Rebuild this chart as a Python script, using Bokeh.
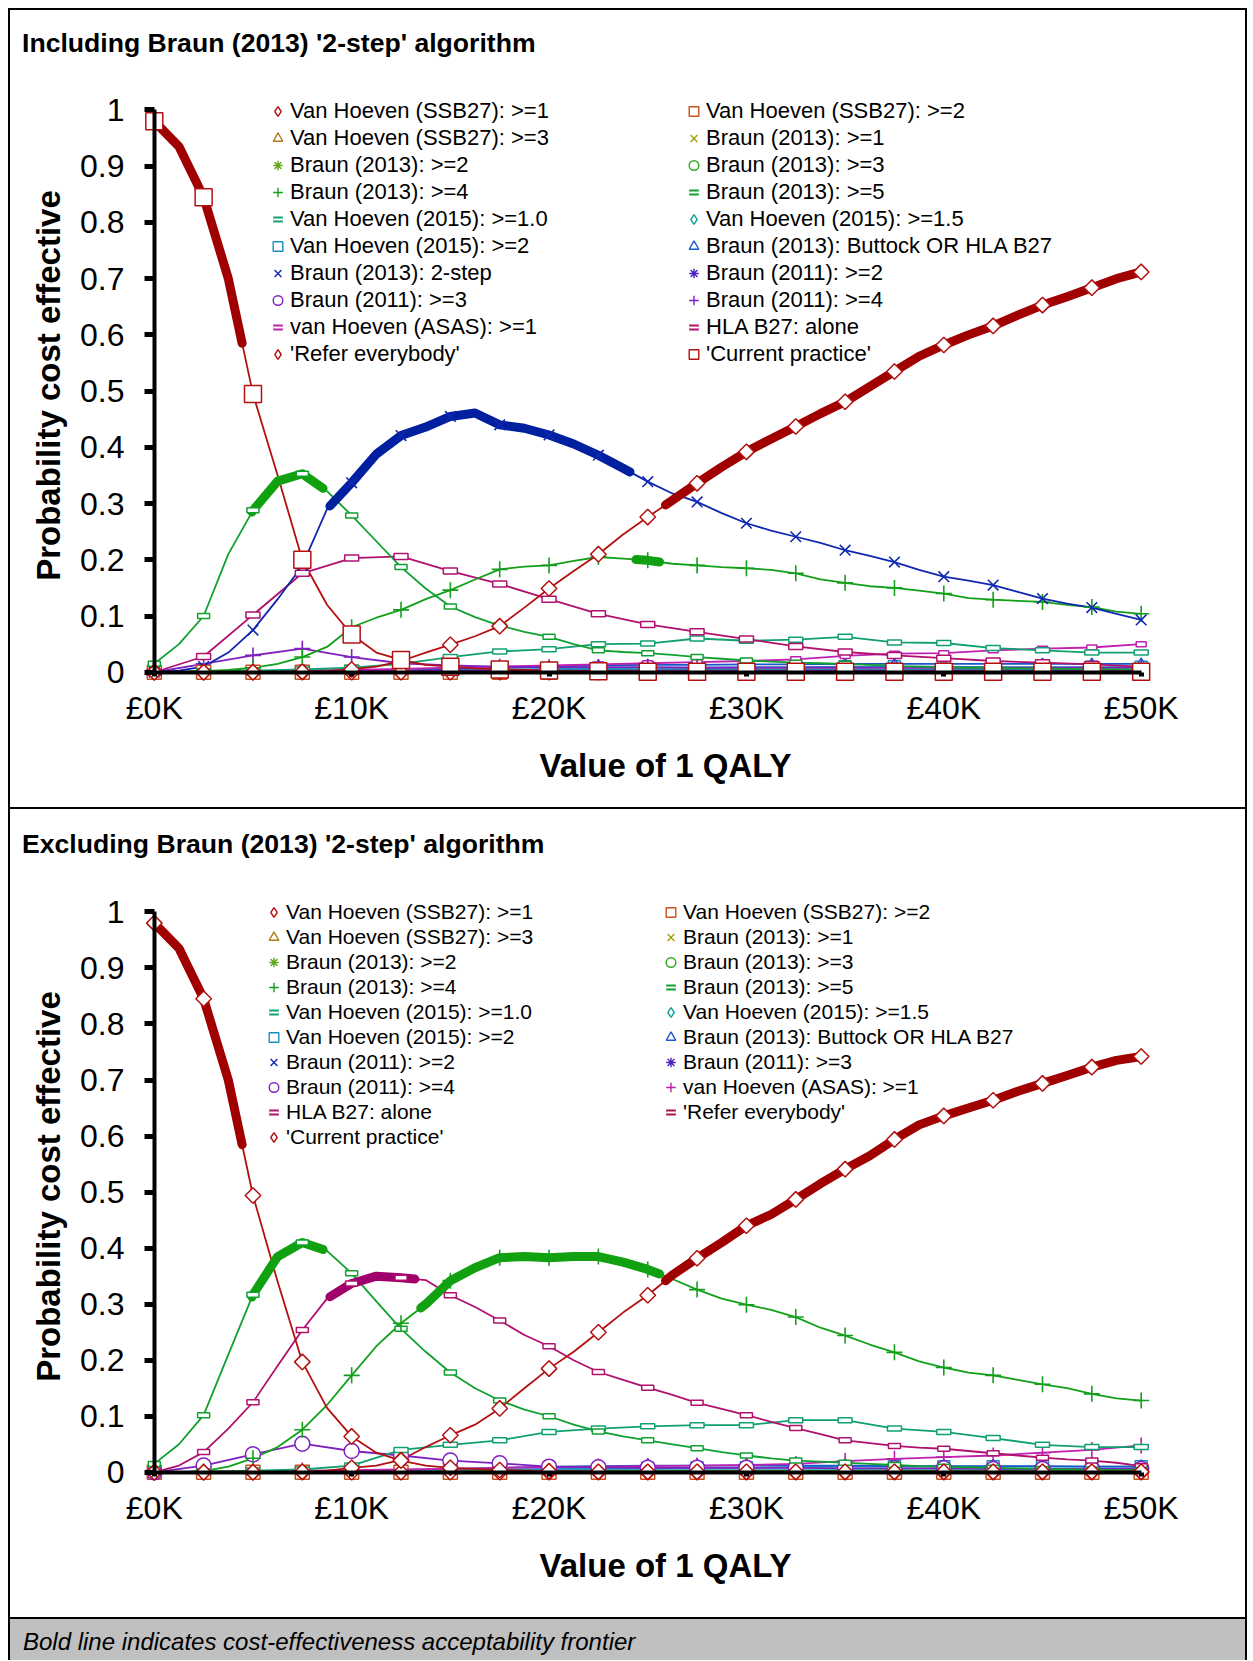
import math
import numpy as np
from bokeh.plotting import figure
from bokeh.models import (Range1d, FixedTicker, PrintfTickFormatter, CustomJSTickFormatter,
                          Legend, LegendItem, Div, LinearAxis, Spacer)
from bokeh.layouts import column, row
from bokeh.embed import file_html
from bokeh.resources import INLINE

FONT = "Liberation Sans"

# ---------------- data ----------------
X_FINE = [0, 1.25, 2.5, 3.75, 5, 6.25, 7.5, 8.75, 10, 11.25, 12.5, 13.75, 15, 16.25, 17.5, 18.75,
          20, 21.25, 22.5, 23.75, 25, 26.25, 27.5, 28.75, 30, 31.25, 32.5, 33.75, 35, 36.25, 37.5,
          38.75, 40, 41.25, 42.5, 43.75, 45, 46.25, 47.5, 48.75, 50]
X_STEP = [0, 2.5, 5, 7.5, 10, 12.5, 15, 17.5, 20, 22.5, 25, 27.5, 30, 32.5, 35, 37.5, 40, 42.5, 45, 47.5, 50]
X_TICKS = [0, 10, 20, 30, 40, 50]
Y_TICKS = [0, 0.1, 0.2, 0.3, 0.4, 0.5, 0.6, 0.7, 0.8, 0.9, 1]

ZEROS = [0, 0, 0, 0, 0, 0, 0, 0, 0, 0, 0, 0, 0, 0, 0, 0, 0, 0, 0, 0, 0]

# --- top chart (including 2-step) ---
top_current = [0.98, 0.935, 0.845, 0.70, 0.495, 0.35, 0.20, 0.12, 0.067, 0.035, 0.022, 0.013, 0.010,
               0.007, 0.005, 0.004, 0.003, 0.002, 0.002, 0.002, 0.001, 0.001, 0.001, 0.001, 0.001,
               0.001, 0.001, 0.001, 0.001, 0.001, 0.001, 0.001, 0.001, 0.001, 0.001, 0.001, 0.001,
               0.001, 0.001, 0.001, 0.001]
top_refer = [0, 0, 0, 0, 0, 0, 0.001, 0.002, 0.005, 0.01, 0.02, 0.035, 0.049, 0.064, 0.082, 0.115,
             0.149, 0.18, 0.21, 0.245, 0.276, 0.306, 0.336, 0.365, 0.392, 0.415, 0.437, 0.46, 0.481,
             0.508, 0.535, 0.562, 0.582, 0.6, 0.616, 0.635, 0.653, 0.668, 0.684, 0.70, 0.712]
top_twostep = [0, 0.003, 0.01, 0.035, 0.075, 0.13, 0.19, 0.29, 0.337, 0.388, 0.421, 0.436, 0.455,
               0.461, 0.44, 0.434, 0.422, 0.406, 0.386, 0.363, 0.339, 0.318, 0.303, 0.283, 0.265,
               0.252, 0.241, 0.23, 0.217, 0.207, 0.196, 0.182, 0.17, 0.163, 0.155, 0.143, 0.131,
               0.122, 0.115, 0.104, 0.093]
top_braun13_5 = [0.015, 0.05, 0.10, 0.21, 0.288, 0.34, 0.353, 0.322, 0.279, 0.233, 0.187, 0.149,
                 0.117, 0.098, 0.083, 0.072, 0.063, 0.05, 0.039, 0.036, 0.034, 0.031, 0.027, 0.024,
                 0.021, 0.019, 0.017, 0.016, 0.015, 0.013, 0.011, 0.010, 0.009, 0.008, 0.008, 0.007,
                 0.007, 0.006, 0.006, 0.005, 0.005]
top_braun13_4 = [0, 0, 0.002, 0.004, 0.008, 0.015, 0.027, 0.045, 0.08, 0.097, 0.111, 0.13, 0.146,
                 0.165, 0.183, 0.188, 0.19, 0.198, 0.205, 0.202, 0.199, 0.193, 0.19, 0.187, 0.185,
                 0.182, 0.176, 0.165, 0.159, 0.153, 0.15, 0.145, 0.14, 0.132, 0.129, 0.127, 0.125,
                 0.12, 0.116, 0.108, 0.104]
top_hla = [0.0, 0.028, 0.102, 0.176, 0.203, 0.206, 0.18, 0.157, 0.13, 0.104, 0.085, 0.072, 0.059,
           0.046, 0.036, 0.03, 0.025, 0.02, 0.017, 0.014, 0.01]
top_vh15_10 = [0, 0.002, 0.003, 0.005, 0.008, 0.015, 0.027, 0.037, 0.041, 0.05, 0.051, 0.06, 0.056,
               0.058, 0.063, 0.053, 0.052, 0.043, 0.039, 0.035, 0.035]
top_asas = [0, 0.001, 0.002, 0.003, 0.004, 0.006, 0.008, 0.01, 0.012, 0.014, 0.016, 0.018, 0.02,
            0.023, 0.029, 0.033, 0.034, 0.039, 0.042, 0.044, 0.05]
top_braun11_4 = [0, 0.015, 0.03, 0.042, 0.027, 0.016, 0.012, 0.01, 0.009, 0.009, 0.009, 0.008, 0.008,
                 0.008, 0.008, 0.008, 0.008, 0.008, 0.008, 0.008, 0.008]
top_braun11_3 = [0, 0.001, 0.002, 0.003, 0.003, 0.003, 0.003, 0.003, 0.003, 0.003, 0.003, 0.003,
                 0.003, 0.003, 0.003, 0.003, 0.003, 0.003, 0.003, 0.003, 0.003]
top_braun13_3 = [0, 0, 0, 0, 0.001, 0.001, 0.002, 0.002, 0.002, 0.002, 0.002, 0.002, 0.002, 0.002,
                 0.002, 0.002, 0.002, 0.002, 0.002, 0.002, 0.002]
top_vh15_15 = [0, 0, 0, 0, 0, 0.001, 0.002, 0.003, 0.004, 0.004, 0.005, 0.005, 0.005, 0.005, 0.005,
               0.005, 0.005, 0.005, 0.005, 0.005, 0.005]
top_vh15_2 = [0, 0, 0, 0, 0.001, 0.002, 0.004, 0.005, 0.006, 0.007, 0.008, 0.008, 0.009, 0.009,
              0.01, 0.01, 0.01, 0.009, 0.009, 0.009, 0.009]
top_buttock = [0, 0, 0, 0, 0.001, 0.003, 0.006, 0.008, 0.01, 0.012, 0.013, 0.013, 0.014, 0.014,
               0.015, 0.015, 0.015, 0.015, 0.015, 0.015, 0.015]

# --- bottom chart (excluding 2-step) ---
bot_current = [0.98, 0.935, 0.845, 0.70, 0.494, 0.34, 0.197, 0.115, 0.064, 0.035, 0.021, 0.012,
               0.008, 0.006, 0.004, 0.003, 0.002, 0.002, 0.001, 0.001, 0.001, 0.001, 0.001, 0.001,
               0.001, 0.001, 0.001, 0.001, 0.001, 0.001, 0.001, 0.001, 0.001, 0.001, 0.001, 0.001,
               0.001, 0.001, 0.001, 0.001, 0.001]
bot_refer = [0, 0, 0, 0, 0, 0, 0.001, 0.003, 0.008, 0.012, 0.022, 0.045, 0.066, 0.085, 0.114, 0.15,
             0.185, 0.215, 0.25, 0.285, 0.316, 0.352, 0.382, 0.41, 0.44, 0.46, 0.487, 0.515, 0.541,
             0.565, 0.594, 0.62, 0.636, 0.65, 0.664, 0.68, 0.694, 0.708, 0.723, 0.735, 0.742]
bot_braun13_5 = [0.015, 0.05, 0.102, 0.21, 0.317, 0.385, 0.41, 0.395, 0.355, 0.305, 0.256, 0.215,
                 0.178, 0.15, 0.128, 0.112, 0.1, 0.085, 0.073, 0.064, 0.057, 0.05, 0.043, 0.036,
                 0.03, 0.025, 0.021, 0.019, 0.017, 0.015, 0.013, 0.011, 0.01, 0.009, 0.008, 0.007,
                 0.006, 0.005, 0.005, 0.004, 0.004]
bot_hla = [0, 0.012, 0.036, 0.078, 0.125, 0.19, 0.254, 0.31, 0.337, 0.35, 0.347, 0.343, 0.316, 0.295,
           0.271, 0.245, 0.225, 0.2, 0.179, 0.165, 0.151, 0.138, 0.124, 0.113, 0.102, 0.09, 0.079,
           0.068, 0.057, 0.052, 0.047, 0.044, 0.042, 0.038, 0.034, 0.03, 0.026, 0.023, 0.021,
           0.017, 0.011]
bot_braun13_4 = [0, 0, 0.002, 0.01, 0.025, 0.045, 0.076, 0.12, 0.173, 0.225, 0.266, 0.30, 0.342,
                 0.365, 0.383, 0.385, 0.383, 0.385, 0.385, 0.375, 0.362, 0.345, 0.326, 0.31, 0.299,
                 0.29, 0.277, 0.258, 0.244, 0.228, 0.214, 0.198, 0.187, 0.178, 0.173, 0.165, 0.157,
                 0.15, 0.14, 0.132, 0.128]
bot_vh15_10 = [0, 0.001, 0.003, 0.005, 0.012, 0.04, 0.049, 0.057, 0.072, 0.078, 0.082, 0.084, 0.084,
               0.093, 0.093, 0.078, 0.072, 0.061, 0.049, 0.045, 0.045]
bot_braun11_4 = [0, 0.012, 0.032, 0.051, 0.038, 0.03, 0.021, 0.016, 0.01, 0.009, 0.008, 0.008, 0.008,
                 0.008, 0.007, 0.007, 0.007, 0.006, 0.006, 0.006, 0.006]
bot_asas = [0, 0.001, 0.002, 0.003, 0.004, 0.005, 0.006, 0.008, 0.009, 0.01, 0.011, 0.012, 0.013,
            0.015, 0.02, 0.024, 0.027, 0.03, 0.035, 0.04, 0.048]
bot_buttock = [0, 0, 0, 0, 0.002, 0.004, 0.006, 0.008, 0.01, 0.011, 0.012, 0.012, 0.012, 0.012,
               0.012, 0.011, 0.011, 0.011, 0.011, 0.01, 0.01]
bot_vh15_2 = [0, 0, 0, 0, 0.001, 0.002, 0.004, 0.005, 0.006, 0.006, 0.007, 0.008, 0.008, 0.009,
              0.01, 0.01, 0.01, 0.01, 0.01, 0.01, 0.01]
bot_braun13_3 = [0, 0, 0, 0, 0.001, 0.001, 0.002, 0.002, 0.002, 0.002, 0.002, 0.002, 0.002, 0.002,
                 0.002, 0.002, 0.002, 0.002, 0.002, 0.002, 0.002]
bot_vh15_15 = [0, 0, 0, 0, 0, 0.001, 0.002, 0.003, 0.004, 0.004, 0.004, 0.004, 0.004, 0.004, 0.004,
               0.004, 0.004, 0.004, 0.004, 0.004, 0.004]

# frontier: (series key, from £K, to £K)
TOP_FRONTIER = [("current", 0.0, 4.45), ("braun13_5", 4.95, 8.55), ("twostep", 8.9, 24.1),
                ("braun13_4", 24.4, 25.6), ("refer", 25.9, 50.0)]
BOT_FRONTIER = [("current", 0.0, 4.45), ("braun13_5", 4.95, 8.55), ("hla", 8.9, 13.2),
                ("braun13_4", 13.5, 25.6), ("refer", 25.9, 50.0)]

TITLES = ["Including Braun (2013) '2-step' algorithm", "Excluding Braun (2013) '2-step' algorithm"]
X_LABEL = "Value of 1 QALY"
Y_LABEL = "Probability cost effective"
FOOTNOTE = "Bold line indicates cost-effectiveness acceptability frontier"

# ---------------- styles ----------------
RED = "#B41010"
RED_BOLD = "#A00000"
COL = {
    "vh_ssb27_1": "#B41010", "vh_ssb27_2": "#C8501E", "vh_ssb27_3": "#B07818",
    "braun13_1": "#A8A000", "braun13_2": "#60A818", "braun13_3": "#30A820",
    "braun13_4": "#12A01A", "braun13_5": "#10A030", "vh15_10": "#10A070",
    "vh15_15": "#10A0A0", "vh15_2": "#1890C0", "buttock": "#1858C8",
    "twostep": "#1028B0", "indigo": "#4A20C0", "purple": "#8020C0",
    "magenta": "#C020B0", "hla": "#B0106E", "refer_leg": "#A8104A",
}
BOLD = {"current": RED_BOLD, "refer": RED_BOLD, "braun13_5": "#10A010", "braun13_4": "#10A010",
        "twostep": "#0020A0", "hla": "#A0006A"}


def S(key, label, x, y, color, mk, size, leg=None, leg_color=None):
    return dict(key=key, label=label, x=x, y=y, color=color, mk=mk, size=size,
                leg=leg or mk, leg_color=leg_color or color)


TOP_SERIES = [
    S("vh15_15", "Van Hoeven (2015): >=1.5", X_STEP, top_vh15_15, COL["vh15_15"], "diamond", 10),
    S("vh15_2", "Van Hoeven (2015): >=2", X_STEP, top_vh15_2, COL["vh15_2"], "square", 12),
    S("buttock", "Braun (2013): Buttock OR HLA B27", X_STEP, top_buttock, COL["buttock"], "triangle", 10),
    S("braun13_3", "Braun (2013): >=3", X_STEP, top_braun13_3, COL["braun13_3"], "circle", 12),
    S("braun11_3", "Braun (2011): >=3", X_STEP, top_braun11_3, COL["purple"], "circle", 12),
    S("braun11_2", "Braun (2011): >=2", X_STEP, ZEROS, COL["indigo"], "asterisk", 13),
    S("braun13_2", "Braun (2013): >=2", X_STEP, ZEROS, COL["braun13_2"], "asterisk", 13),
    S("braun13_1", "Braun (2013): >=1", X_STEP, ZEROS, COL["braun13_1"], "x", 13),
    S("vh_ssb27_3", "Van Hoeven (SSB27): >=3", X_STEP, ZEROS, COL["vh_ssb27_3"], "triangle", 10),
    S("vh_ssb27_2", "Van Hoeven (SSB27): >=2", X_STEP, ZEROS, COL["vh_ssb27_2"], "square", 14),
    S("asas", "van Hoeven (ASAS): >=1", X_STEP, top_asas, COL["magenta"], "dash", (10, 5)),
    S("braun11_4", "Braun (2011): >=4", X_STEP, top_braun11_4, COL["purple"], "cross", 16),
    S("vh15_10", "Van Hoeven (2015): >=1.0", X_STEP, top_vh15_10, COL["vh15_10"], "dash", (14, 5)),
    S("hla", "HLA B27: alone", X_STEP, top_hla, COL["hla"], "dash", (14, 6)),
    S("braun13_5", "Braun (2013): >=5", X_FINE, top_braun13_5, COL["braun13_5"], "dash", (12, 5)),
    S("braun13_4", "Braun (2013): >=4", X_FINE, top_braun13_4, COL["braun13_4"], "cross", 16),
    S("twostep", "Braun (2013): 2-step", X_FINE, top_twostep, COL["twostep"], "x", 15),
    S("vh_ssb27_1", "Van Hoeven (SSB27): >=1", X_STEP, ZEROS, COL["vh_ssb27_1"], "diamond", 11),
    S("refer", "'Refer everybody'", X_FINE, top_refer, RED, "diamond", 11),
    S("current", "'Current practice'", X_FINE, top_current, RED, "square", 17),
]
TOP_LEG_LEFT = ["vh_ssb27_1", "vh_ssb27_3", "braun13_2", "braun13_4", "vh15_10", "vh15_2",
                "twostep", "braun11_3", "asas", "refer"]
TOP_LEG_RIGHT = ["vh_ssb27_2", "braun13_1", "braun13_3", "braun13_5", "vh15_15", "buttock",
                 "braun11_2", "braun11_4", "hla", "current"]

BOT_SERIES = [
    S("vh15_15", "Van Hoeven (2015): >=1.5", X_STEP, bot_vh15_15, COL["vh15_15"], "diamond", 10),
    S("vh15_2", "Van Hoeven (2015): >=2", X_STEP, bot_vh15_2, COL["vh15_2"], "square", 12),
    S("buttock", "Braun (2013): Buttock OR HLA B27", X_STEP, bot_buttock, COL["buttock"], "triangle", 12),
    S("braun13_3", "Braun (2013): >=3", X_STEP, bot_braun13_3, COL["braun13_3"], "circle", 12),
    S("braun11_3", "Braun (2011): >=3", X_STEP, ZEROS, COL["indigo"], "asterisk", 13),
    S("braun11_2", "Braun (2011): >=2", X_STEP, ZEROS, COL["twostep"], "x", 13),
    S("braun13_2", "Braun (2013): >=2", X_STEP, ZEROS, COL["braun13_2"], "asterisk", 13),
    S("braun13_1", "Braun (2013): >=1", X_STEP, ZEROS, COL["braun13_1"], "x", 13),
    S("vh_ssb27_3", "Van Hoeven (SSB27): >=3", X_STEP, ZEROS, COL["vh_ssb27_3"], "triangle", 10),
    S("vh_ssb27_2", "Van Hoeven (SSB27): >=2", X_STEP, ZEROS, COL["vh_ssb27_2"], "square", 14),
    S("asas", "van Hoeven (ASAS): >=1", X_STEP, bot_asas, COL["magenta"], "cross", 16),
    S("braun11_4", "Braun (2011): >=4", X_STEP, bot_braun11_4, COL["purple"], "circle", 15),
    S("vh15_10", "Van Hoeven (2015): >=1.0", X_STEP, bot_vh15_10, COL["vh15_10"], "dash", (14, 5)),
    S("hla", "HLA B27: alone", X_FINE, bot_hla, COL["hla"], "dash", (12, 5)),
    S("braun13_5", "Braun (2013): >=5", X_FINE, bot_braun13_5, COL["braun13_5"], "dash", (12, 5)),
    S("braun13_4", "Braun (2013): >=4", X_FINE, bot_braun13_4, COL["braun13_4"], "cross", 16),
    S("vh_ssb27_1", "Van Hoeven (SSB27): >=1", X_STEP, ZEROS, COL["vh_ssb27_1"], "diamond", 11),
    S("refer", "'Refer everybody'", X_FINE, bot_refer, RED, "diamond", 11, leg="dash",
      leg_color=COL["refer_leg"]),
    S("current", "'Current practice'", X_FINE, bot_current, RED, "diamond", 11),
]
BOT_LEG_LEFT = ["vh_ssb27_1", "vh_ssb27_3", "braun13_2", "braun13_4", "vh15_10", "vh15_2",
                "braun11_2", "braun11_4", "hla", "current"]
BOT_LEG_RIGHT = ["vh_ssb27_2", "braun13_1", "braun13_3", "braun13_5", "vh15_15", "buttock",
                 "braun11_3", "asas", "refer"]

NAN = [float("nan")]
HOLLOW = ("square", "circle", "triangle", "diamond")


def add_markers(p, xs, ys, kind, color, size):
    if kind == "dash":
        w, h = size
        return p.rect(x=xs, y=ys, width=w, height=h, width_units="screen", height_units="screen",
                      fill_color="white", line_color=color, line_width=1.5)
    if kind == "diamond":
        return p.scatter(x=xs, y=ys, marker="square", angle=math.pi / 4, size=size,
                         fill_color="white", line_color=color, line_width=1.5)
    if kind in HOLLOW:
        return p.scatter(x=xs, y=ys, marker=kind, size=size, fill_color="white",
                         line_color=color, line_width=1.5)
    return p.scatter(x=xs, y=ys, marker=kind, size=size, line_color=color, line_width=1.6)


def legend_glyphs(p, kind, color):
    if kind == "dash":
        r1 = p.scatter(x=NAN, y=NAN, marker="dash", size=10, line_color=color, line_width=6)
        r2 = p.scatter(x=NAN, y=NAN, marker="dash", size=10, line_color="white", line_width=2)
        return [r1, r2]
    if kind in HOLLOW:
        return [p.scatter(x=NAN, y=NAN, marker=kind, size=10, fill_color="white",
                          line_color=color, line_width=1.4)]
    return [p.scatter(x=NAN, y=NAN, marker=kind, size=10, line_color=color, line_width=1.4)]


def segment(xs, ys, a, b):
    xs = np.asarray(xs, dtype=float)
    ys = np.asarray(ys, dtype=float)
    inside = (xs > a) & (xs < b)
    sx = [a] + xs[inside].tolist() + [b]
    sy = [float(np.interp(a, xs, ys))] + ys[inside].tolist() + [float(np.interp(b, xs, ys))]
    return sx, sy


def make_legend(p, specs, vx, vy, spacing, font_size):
    items = []
    for s in specs:
        items.append(LegendItem(label=s["label"], renderers=legend_glyphs(p, s["leg"], s["leg_color"])))
    lg = Legend(items=items, location=(vx, vy), orientation="vertical",
                label_text_font=FONT, label_text_font_size=font_size, label_text_color="black",
                glyph_width=25, glyph_height=24, label_standoff=0, spacing=spacing,
                padding=0, margin=0, border_line_color=None, background_fill_alpha=0,
                label_height=22)
    p.add_layout(lg, "center")


PW = 1235
TITLE_H = 60


def make_chart(series, frontier, leg_left, leg_right, geo):
    p = figure(width=PW, height=geo["h"], output_backend="svg", toolbar_location=None, tools="",
               x_range=Range1d(-0.8, 52.6), y_range=Range1d(-0.02, 1.04),
               min_border_left=128, min_border_right=53,
               min_border_top=geo["top"], min_border_bottom=geo["bottom"])
    p.outline_line_color = None
    p.grid.visible = False
    p.background_fill_color = "white"
    p.border_fill_color = "white"

    # tick labels and axis titles (at the frame edges)
    xa, ya = p.xaxis[0], p.yaxis[0]
    xa.ticker = FixedTicker(ticks=X_TICKS)
    ya.ticker = FixedTicker(ticks=Y_TICKS)
    xa.formatter = PrintfTickFormatter(format="£%dK")
    ya.formatter = CustomJSTickFormatter(code="return String(tick)")
    for ax in (xa, ya):
        ax.axis_line_color = None
        ax.major_tick_line_color = None
        ax.minor_tick_line_color = None
        ax.major_tick_in = 0
        ax.major_tick_out = 0
        ax.major_label_text_font = FONT
        ax.major_label_text_font_size = "32px"
        ax.major_label_text_color = "black"
        ax.axis_label_text_font = FONT
        ax.axis_label_text_font_size = "33px"
        ax.axis_label_text_font_style = "bold"
        ax.axis_label_text_color = "black"
    xa.major_label_standoff = 6
    ya.major_label_standoff = 14
    xa.axis_label = X_LABEL
    ya.axis_label = Y_LABEL
    xa.axis_label_standoff = 18
    ya.axis_label_standoff = 10

    # axis lines with their ticks, drawn through the data origin
    for side, ticks, bnd, tick_out in (("below", X_TICKS, (0, 50), 4), ("left", Y_TICKS, (0, 1), 10)):
        ax = LinearAxis(fixed_location=0, bounds=bnd, ticker=FixedTicker(ticks=ticks),
                        formatter=CustomJSTickFormatter(code="return ''"),
                        axis_line_width=4, axis_line_color="black",
                        major_tick_line_width=5, major_tick_line_color="black",
                        major_tick_in=0, major_tick_out=tick_out, minor_tick_line_color=None,
                        major_label_standoff=0, major_label_text_font_size="1px")
        p.add_layout(ax, side)

    by_key = {s["key"]: s for s in series}
    for s in series:
        p.line(s["x"], s["y"], line_color=s["color"], line_width=1.8, line_join="round")
    for key, a, b in frontier:
        s = by_key[key]
        sx, sy = segment(s["x"], s["y"], a, b)
        p.line(sx, sy, line_color=BOLD[key], line_width=9, line_cap="round", line_join="round")
    for s in series:
        xs, ys = s["x"], s["y"]
        if len(xs) == len(X_FINE):
            xs, ys = xs[::2], ys[::2]
        add_markers(p, xs, ys, s["mk"], s["color"], s["size"])

    make_legend(p, [by_key[k] for k in leg_left], geo["lx1"], geo["ly1"], geo["sp"], geo["fs"])
    make_legend(p, [by_key[k] for k in leg_right], geo["lx2"], geo["ly2"], geo["sp"], geo["fs"])
    return p


def title_div(text, pad_top):
    html = ('<div style="padding:%dpx 0 0 12px;font-family:\'Liberation Sans\';font-weight:bold;'
            'font-size:26.6px;line-height:30px;color:black;white-space:nowrap;">%s</div>'
            % (pad_top, text))
    return Div(text=html, width=PW, height=TITLE_H, margin=0, styles={"background-color": "white"})


P1_H = 797 - TITLE_H
P2_H = 808 - TITLE_H
p1 = make_chart(TOP_SERIES, TOP_FRONTIER, TOP_LEG_LEFT, TOP_LEG_RIGHT,
                dict(h=P1_H, top=17, bottom=124, lx1=127, ly1=316, lx2=543, ly2=316, sp=1,
                     fs="22px"))
p2 = make_chart(BOT_SERIES, BOT_FRONTIER, BOT_LEG_LEFT, BOT_LEG_RIGHT,
                dict(h=P2_H, top=20, bottom=134, lx1=123, ly1=334, lx2=520, ly2=359, sp=1,
                     fs="21px"))


def hline():
    return Div(text="", width=PW, height=2, margin=0, styles={"background-color": "black"})


FOOT_H = 41
footer = Div(text='<div style="padding:10px 0 0 13px;font-family:\'Liberation Sans\';'
                  'font-style:italic;font-size:24px;line-height:26px;color:black;white-space:nowrap;">'
                  + FOOTNOTE + '</div>',
             width=PW, height=FOOT_H, margin=0, styles={"background-color": "#C0C0C0"})

inner = column(hline(), title_div(TITLES[0], 18), p1, hline(), title_div(TITLES[1], 20), p2,
               hline(), footer, spacing=0)
TOTAL_H = 2 + 797 + 2 + 808 + 2 + FOOT_H


def vline():
    return Div(text="", width=2, height=TOTAL_H, margin=0, styles={"background-color": "black"})


layout = column(Spacer(width=8, height=8),
                row(Spacer(width=8, height=TOTAL_H), vline(), inner, vline(), spacing=0),
                spacing=0)

with open("out.html", "w") as f:
    f.write(file_html(layout, INLINE))
